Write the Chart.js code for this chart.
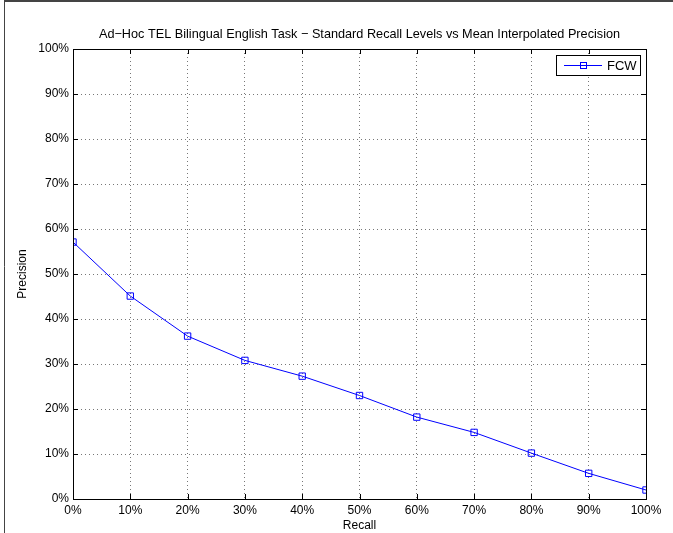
<!DOCTYPE html>
<html>
<head>
<meta charset="utf-8">
<script src="https://cdn.jsdelivr.net/npm/chart.js@4"></script>
<style>
  html, body { margin: 0; padding: 0; background: #fff; }
  #wrap { width: 673px; height: 533px; }
</style>
</head>
<body>
<div id="wrap"><canvas id="precisionChart" width="673" height="533"></canvas></div>
<script>
var recallLevels = [0, 10, 20, 30, 40, 50, 60, 70, 80, 90, 100];
var fcwPrecision = [57.1, 45.1, 36.2, 30.8, 27.3, 23.0, 18.2, 14.8, 10.2, 5.7, 2.0];
var seriesName = "FCW";
var chartTitle = "Ad\u2212Hoc TEL Bilingual English Task \u2212 Standard Recall Levels vs Mean Interpolated Precision";

var font = "Liberation Sans, Arial, Helvetica, sans-serif";

// matlab style box with inward ticks, title over the axes, legend and figure frame
var matlabBox = {
  id: "matlabBox",
  afterDraw: function (chart) {
    var ctx = chart.ctx;
    var a = chart.chartArea;
    var xs = chart.scales.x, ys = chart.scales.y;
    ctx.save();
    ctx.strokeStyle = "#000";
    ctx.lineWidth = 1;
    ctx.strokeRect(Math.round(a.left) + 0.5, Math.round(a.top) + 0.5,
      Math.round(a.right - a.left), Math.round(a.bottom - a.top));
    ctx.beginPath();
    xs.ticks.forEach(function (t) {
      var px = Math.round(xs.getPixelForValue(t.value)) + 0.5;
      ctx.moveTo(px, a.bottom); ctx.lineTo(px, a.bottom - 5);
      ctx.moveTo(px, a.top); ctx.lineTo(px, a.top + 5);
    });
    ys.ticks.forEach(function (t) {
      var py = Math.round(ys.getPixelForValue(t.value)) + 0.5;
      ctx.moveTo(a.left, py); ctx.lineTo(a.left + 5, py);
      ctx.moveTo(a.right, py); ctx.lineTo(a.right - 5, py);
    });
    ctx.stroke();

    // title
    ctx.fillStyle = "#000";
    ctx.font = "12.7px " + font;
    ctx.textAlign = "center";
    ctx.textBaseline = "middle";
    ctx.fillText(chartTitle, (a.left + a.right) / 2, 34);

    // legend
    var lx = 556.5, ly = 55.5, lw = 84, lh = 20;
    ctx.fillStyle = "#fff";
    ctx.fillRect(lx, ly, lw, lh);
    ctx.strokeStyle = "#000";
    ctx.strokeRect(lx, ly, lw, lh);
    ctx.strokeStyle = "#0000ff";
    ctx.beginPath();
    ctx.moveTo(564, 65.5); ctx.lineTo(602, 65.5);
    ctx.stroke();
    ctx.strokeRect(580.5, 62.5, 6, 6);
    ctx.fillStyle = "#000";
    ctx.font = "13px " + font;
    ctx.textAlign = "left";
    ctx.fillText(seriesName, 607, 66);

    // figure frame
    ctx.strokeStyle = "#444";
    ctx.beginPath();
    ctx.moveTo(4.5, 0); ctx.lineTo(4.5, 533);
    ctx.stroke();
    ctx.lineWidth = 2;
    ctx.beginPath();
    ctx.moveTo(4, 1); ctx.lineTo(673, 1);
    ctx.stroke();
    ctx.restore();
  }
};

var precisionChart = new Chart(document.getElementById("precisionChart"), {
  type: "line",
  data: {
    labels: recallLevels,
    datasets: [
      {
        label: seriesName,
        data: recallLevels.map(function (r, i) { return { x: r, y: fcwPrecision[i] }; }),
        borderColor: "#0000ff",
        backgroundColor: "rgba(0,0,0,0)",
        borderWidth: 1,
        pointStyle: "rect",
        pointRadius: 4.5,
        pointBorderWidth: 1,
        pointBorderColor: "#0000ff",
        pointBackgroundColor: "rgba(0,0,0,0)",
        tension: 0,
      },
    ],
  },
  options: {
    responsive: false,
    animation: false,
    layout: { padding: { top: 49, right: 27, bottom: 0, left: 0 } },
    plugins: {
      legend: { display: false },
      tooltip: { enabled: false },
      title: { display: false },
    },
    scales: {
      x: {
        type: "linear",
        min: 0,
        max: 100,
        afterFit: function (s) { s.height = 34; },
        ticks: {
          stepSize: 10,
          color: "#000",
          padding: 4,
          maxRotation: 0,
          font: { family: font, size: 12 },
          callback: function (v) { return v + "%"; },
        },
        grid: { color: "#777", drawTicks: false, lineWidth: 1 },
        border: { display: false, dash: [1, 3] },
        title: {
          display: true,
          text: "Recall",
          color: "#000",
          padding: { top: -5, bottom: 0 },
          font: { family: font, size: 12 },
        },
      },
      y: {
        min: 0,
        max: 100,
        afterFit: function (s) { s.width = 73; },
        ticks: {
          stepSize: 10,
          color: "#000",
          padding: 4,
          font: { family: font, size: 12 },
          callback: function (v) { return v + "%"; },
        },
        grid: { color: "#777", drawTicks: false, lineWidth: 1 },
        border: { display: false, dash: [1, 3] },
        title: {
          display: true,
          text: "Precision",
          color: "#000",
          padding: { top: 15, bottom: 0 },
          font: { family: font, size: 12 },
        },
      },
    },
  },
  plugins: [matlabBox],
});
</script>
</body>
</html>
